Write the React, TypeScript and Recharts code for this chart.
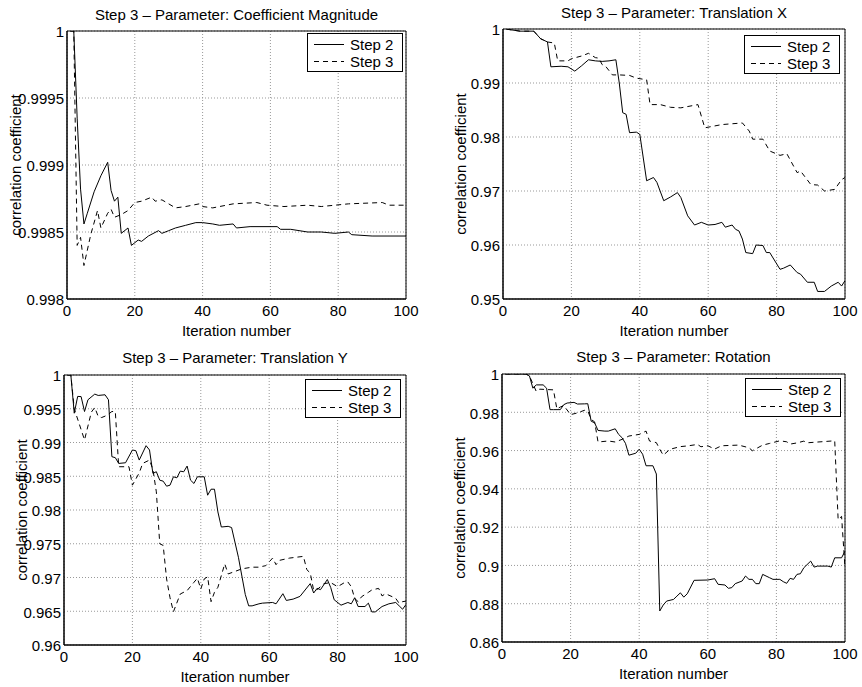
import React from 'react'
import { CartesianGrid, Label, Legend, Line, LineChart, ReferenceArea, XAxis, YAxis } from 'recharts'

const FONT = '"Liberation Sans", Arial, Helvetica, sans-serif'

// shared axis / legend text
const iterTicks = [0, 20, 40, 60, 80, 100]
const seriesNames = ['Step 2', 'Step 3']
const seriesDash = ['', '5 4']
const xLabel = 'Iteration number'
const yLabel = 'correlation coefficient'

// Coefficient Magnitude
const magTitle = 'Step 3 – Parameter: Coefficient Magnitude'
const magTicks = [0.998, 0.9985, 0.999, 0.9995, 1]
const magTickLabels = ['0.998', '0.9985', '0.999', '0.9995', '1']
const magStep2 = [
  [1, 1], [2, 1], [3, 0.99935], [4, 0.99882], [5, 0.99856], [6, 0.99864], [8, 0.9988], [10, 0.99892],
  [12, 0.99902], [13, 0.99881], [14, 0.99873], [15, 0.99876], [16, 0.99849], [18, 0.99853], [19, 0.9984],
  [21, 0.99844], [22, 0.99843], [24, 0.99847], [27, 0.99851], [28, 0.99849], [30, 0.99851], [32, 0.99853],
  [35, 0.99855], [38, 0.99857], [40, 0.99857], [43, 0.99856], [45, 0.99855], [49, 0.99856], [50, 0.99853],
  [54, 0.99854], [59, 0.99854], [62, 0.99854], [63, 0.99852], [66, 0.99852], [71, 0.9985], [75, 0.9985],
  [79, 0.99849], [83, 0.9985], [84, 0.99848], [90, 0.99847], [100, 0.99847],
]
const magStep3 = [
  [1, 1], [2, 1], [3, 0.9984], [4, 0.99846], [5, 0.99825], [7, 0.99848], [9, 0.99866], [10, 0.99853],
  [12, 0.99864], [13, 0.99867], [14, 0.99861], [16, 0.99863], [18, 0.99866], [20, 0.99872], [22, 0.99873],
  [25, 0.99876], [26, 0.99873], [28, 0.99874], [30, 0.99871], [32, 0.99868], [35, 0.99869], [39, 0.99871],
  [40, 0.99869], [43, 0.99868], [49, 0.99871], [56, 0.99872], [59, 0.9987], [64, 0.99869], [71, 0.9987],
  [75, 0.99869], [79, 0.9987], [83, 0.99871], [93, 0.99872], [95, 0.9987], [100, 0.9987],
]

// Translation X
const txTitle = 'Step 3 – Parameter: Translation X'
const txTicks = [0.95, 0.96, 0.97, 0.98, 0.99, 1]
const txTickLabels = ['0.95', '0.96', '0.97', '0.98', '0.99', '1']
const txStep2 = [
  [1, 1], [2, 0.99988], [5, 0.9996], [9, 0.9996], [11, 0.9982], [13, 0.9976], [14, 0.993], [17, 0.9931],
  [19, 0.993], [21, 0.9922], [23, 0.9932], [25, 0.9943], [27, 0.9941], [29, 0.994], [31, 0.9941],
  [33, 0.9943], [34, 0.99], [35, 0.9845], [36, 0.9842], [37, 0.9808], [39, 0.9809], [40, 0.9805],
  [42, 0.9719], [44, 0.9725], [45, 0.9716], [47, 0.9682], [49, 0.9689], [51, 0.9697], [52, 0.9688],
  [54, 0.9654], [56, 0.9637], [58, 0.9642], [60, 0.9637], [62, 0.9638], [64, 0.9642], [65, 0.9633],
  [67, 0.9637], [68, 0.9629], [69, 0.9626], [70, 0.9611], [71, 0.9586], [73, 0.9584], [74, 0.96],
  [76, 0.9599], [77, 0.9586], [78, 0.9586], [81, 0.9555], [82, 0.9557], [84, 0.9563], [86, 0.9549],
  [87, 0.9546], [89, 0.9531], [91, 0.9531], [92, 0.9514], [94, 0.9514], [96, 0.9524], [98, 0.9531],
  [99, 0.9524], [100, 0.9534],
]
const txStep3 = [
  [1, 1], [2, 0.99988], [5, 0.9996], [9, 0.9996], [11, 0.9982], [13, 0.9976], [15, 0.9974], [16, 0.9941],
  [19, 0.9941], [20, 0.9945], [23, 0.995], [25, 0.9955], [27, 0.9947], [28, 0.9946], [29, 0.9934],
  [30, 0.9931], [32, 0.9915], [34, 0.9915], [37, 0.9914], [39, 0.9909], [42, 0.9906], [43, 0.986],
  [46, 0.986], [49, 0.9855], [52, 0.9854], [57, 0.986], [59, 0.9817], [64, 0.9823], [70, 0.9826],
  [72, 0.9811], [73, 0.9796], [76, 0.9796], [78, 0.9774], [81, 0.9766], [83, 0.9769], [86, 0.9734],
  [87, 0.9737], [90, 0.9712], [92, 0.9711], [94, 0.97], [97, 0.9703], [99, 0.9721], [100, 0.9725],
]

// Translation Y
const tyTitle = 'Step 3 – Parameter: Translation Y'
const tyTicks = [0.96, 0.965, 0.97, 0.975, 0.98, 0.985, 0.99, 0.995, 1]
const tyTickLabels = ['0.96', '0.965', '0.97', '0.975', '0.98', '0.985', '0.99', '0.995', '1']
const tyStep2 = [
  [1, 1], [2, 1], [3, 0.99434], [4, 0.99683], [5, 0.9968], [6, 0.99459], [7, 0.99633], [9, 0.99717],
  [10, 0.99697], [12, 0.99707], [13, 0.99633], [14, 0.9879], [15, 0.98775], [16, 0.9869], [18, 0.987],
  [20, 0.98889], [21, 0.98879], [22, 0.9874], [24, 0.98953], [25, 0.98889], [26, 0.98542], [27, 0.98567],
  [28, 0.98442], [29, 0.98427], [30, 0.98353], [31, 0.98368], [32, 0.98492], [33, 0.98477], [34, 0.98576],
  [35, 0.98566], [36, 0.98651], [37, 0.98442], [38, 0.98393], [39, 0.98492], [41, 0.98492], [42, 0.98219],
  [43, 0.98308], [44, 0.98308], [45, 0.97971], [46, 0.97748], [48, 0.97758], [49, 0.9774], [51, 0.973],
  [53, 0.9675], [54, 0.9658], [55, 0.9658], [57, 0.9661], [58, 0.9662], [61, 0.9663], [62, 0.9661],
  [64, 0.9676], [65, 0.9666], [67, 0.9668], [69, 0.9672], [72, 0.9691], [73, 0.9677], [74, 0.9684],
  [75, 0.9682], [77, 0.9697], [78, 0.9685], [79, 0.9667], [81, 0.9659], [83, 0.9663], [84, 0.9661],
  [85, 0.967], [86, 0.9657], [88, 0.9657], [89, 0.9662], [90, 0.9649], [91, 0.9649], [93, 0.9657],
  [95, 0.9661], [97, 0.9663], [98, 0.9658], [99, 0.9653], [100, 0.966],
]
const tyStep3 = [
  [1, 1], [2, 1], [3, 0.99499], [6, 0.99038], [8, 0.9945], [9, 0.99519], [10, 0.99385], [11, 0.9937],
  [12, 0.9939], [13, 0.9942], [14, 0.99459], [15, 0.99459], [16, 0.98641], [19, 0.98641], [20, 0.98368],
  [22, 0.9855], [23, 0.9869], [25, 0.9874], [26, 0.986], [27, 0.98269], [28, 0.975], [29, 0.97475],
  [30, 0.96979], [31, 0.967], [32, 0.96493], [34, 0.96756], [36, 0.96806], [38, 0.96929], [39, 0.96989],
  [40, 0.9683], [41, 0.96979], [42, 0.9701], [43, 0.96642], [44, 0.96781], [45, 0.96855], [47, 0.97202],
  [48, 0.97053], [50, 0.9709], [52, 0.97128], [55, 0.97153], [57, 0.97153], [58, 0.97165], [59, 0.97175],
  [61, 0.97288], [62, 0.9719], [63, 0.97254], [66, 0.97288], [70, 0.97313], [71, 0.97116], [72, 0.97067],
  [73, 0.9681], [74, 0.9682], [76, 0.96909], [78, 0.96924], [80, 0.96864], [82, 0.96924], [83, 0.96934],
  [84, 0.96864], [85, 0.9669], [86, 0.96642], [87, 0.96715], [89, 0.9678], [90, 0.96815], [92, 0.96839],
  [93, 0.96727], [94, 0.9676], [96, 0.96715], [97, 0.9669], [98, 0.96617], [99, 0.96642], [100, 0.9665],
]

// Rotation
const rotTitle = 'Step 3 – Parameter: Rotation'
const rotTicks = [0.86, 0.88, 0.9, 0.92, 0.94, 0.96, 0.98, 1]
const rotTickLabels = ['0.86', '0.88', '0.9', '0.92', '0.94', '0.96', '0.98', '1']
const rotStep2 = [
  [1, 1], [7, 1], [8, 0.999], [9, 0.99259], [10, 0.99431], [12, 0.99431], [13, 0.99259], [14, 0.98138],
  [15, 0.98138], [17, 0.98138], [18, 0.98397], [19, 0.98483], [21, 0.98517], [22, 0.98431], [24, 0.9844],
  [25, 0.98448], [26, 0.97534], [27, 0.97448], [28, 0.97052], [30, 0.97017], [31, 0.97017], [33, 0.97138],
  [34, 0.96845], [35, 0.96672], [36, 0.96379], [37, 0.95759], [39, 0.95862], [40, 0.96069], [41, 0.9581],
  [42, 0.95207], [44, 0.95207], [45, 0.94776], [46, 0.87621], [47, 0.87931], [48, 0.88138], [50, 0.88224],
  [51, 0.88397], [52, 0.88569], [53, 0.88345], [54, 0.88517], [56, 0.89221], [60, 0.89238], [62, 0.89307],
  [63, 0.89013], [65, 0.88978], [66, 0.88805], [67, 0.8884], [68, 0.89048], [70, 0.89186], [71, 0.89446],
  [72, 0.89273], [73, 0.89273], [74, 0.89048], [75, 0.89048], [76, 0.89532], [78, 0.89359], [79, 0.89273],
  [81, 0.89273], [82, 0.89152], [83, 0.89065], [84, 0.89325], [85, 0.89273], [86, 0.89532], [87, 0.89567],
  [88, 0.89879], [90, 0.90225], [91, 0.89913], [92, 0.89965], [95, 0.89965], [96, 0.89913], [97, 0.90398],
  [99, 0.90398], [100, 0.90745],
]
const rotStep3 = [
  [1, 1], [7, 1], [8, 0.999], [10, 0.99086], [11, 0.99207], [15, 0.99172], [16, 0.98172], [17, 0.98276],
  [18, 0.9835], [20, 0.97879], [22, 0.97966], [24, 0.98103], [25, 0.9808], [26, 0.97621], [27, 0.975],
  [28, 0.96448], [31, 0.965], [33, 0.96448], [35, 0.96586], [37, 0.96759], [40, 0.96845], [42, 0.97017],
  [43, 0.965], [45, 0.96414], [46, 0.96069], [47, 0.95759], [49, 0.96069], [52, 0.96207], [54, 0.96241],
  [57, 0.9632], [58, 0.96199], [60, 0.96251], [62, 0.96078], [64, 0.96251], [69, 0.96286], [72, 0.96147],
  [73, 0.95991], [76, 0.96286], [78, 0.96372], [81, 0.96511], [83, 0.96459], [84, 0.96338], [86, 0.964],
  [88, 0.96494], [89, 0.96407], [93, 0.96459], [97, 0.96511], [98, 0.9239], [99, 0.92563], [100, 0.89879],
]

const toRows = (pts: number[][]) => pts.map(([x, v]) => ({ x, v }))

const panels = [
  { title: magTitle, ticks: magTicks, labels: magTickLabels, s2: magStep2, s3: magStep3 },
  { title: txTitle, ticks: txTicks, labels: txTickLabels, s2: txStep2, s3: txStep3 },
  { title: tyTitle, ticks: tyTicks, labels: tyTickLabels, s2: tyStep2, s3: tyStep3 },
  { title: rotTitle, ticks: rotTicks, labels: rotTickLabels, s2: rotStep2, s3: rotStep3 },
]

// where each sub-plot sits on the page
const Y_AXIS_W = 60
const X_AXIS_H = 30
const layouts = [
  { left: 0, top: 0, w: 431, h: 343, m: { top: 31, right: 25, bottom: 14, left: 7 }, titleY: 15, ylab: 9, lx: 307, ly: 33 },
  { left: 431, top: 0, w: 431, h: 343, m: { top: 29, right: 17, bottom: 14, left: 12 }, titleY: 13, ylab: 18, lx: 313, ly: 35 },
  { left: 0, top: 343, w: 431, h: 344, m: { top: 32, right: 25, bottom: 12, left: 4 }, titleY: 15, ylab: 18, lx: 305, ly: 36 },
  { left: 431, top: 343, w: 431, h: 344, m: { top: 31, right: 17, bottom: 15, left: 11 }, titleY: 14, ylab: 18, lx: 314, ly: 35 },
]

const LegendBox = () => (
  <div
    style={{
      width: 96,
      height: 39,
      boxSizing: 'border-box',
      border: '1px solid #000',
      background: '#fff',
      paddingTop: 2,
      fontFamily: FONT,
      fontSize: 15,
      color: '#000',
    }}
  >
    {seriesNames.map((name, i) => (
      <div key={name} style={{ display: 'flex', alignItems: 'center', height: 17 }}>
        <svg width={42} height={17}>
          <line x1={6} x2={36} y1={8.5} y2={8.5} stroke='#000' strokeWidth={1} strokeDasharray={seriesDash[i]} />
        </svg>
        <span style={{ lineHeight: '17px' }}>{name}</span>
      </div>
    ))}
  </div>
)

const Panel = ({ p, lay }: { p: (typeof panels)[number]; lay: (typeof layouts)[number] }) => {
  const plotLeft = lay.m.left + Y_AXIS_W
  const plotW = lay.w - plotLeft - lay.m.right
  const yMin = p.ticks[0]
  const yMax = p.ticks[p.ticks.length - 1]
  const textStyle = { fill: '#000', fontSize: 15 }

  return (
    <div style={{ position: 'absolute', left: lay.left, top: lay.top, width: lay.w, height: lay.h }}>
      <LineChart width={lay.w} height={lay.h} margin={lay.m} style={{ fontFamily: FONT }}>
        <CartesianGrid stroke='#999' strokeDasharray='1 2' />
        <XAxis
          type='number'
          dataKey='x'
          domain={[0, 100]}
          ticks={iterTicks}
          allowDataOverflow
          height={X_AXIS_H}
          tickLine={false}
          tickSize={4}
          tickMargin={2}
          axisLine={{ stroke: '#000' }}
          tick={textStyle}
        >
          <Label value={xLabel} position='bottom' offset={-4} style={textStyle} />
        </XAxis>
        <YAxis
          type='number'
          domain={[yMin, yMax]}
          ticks={p.ticks}
          allowDataOverflow
          width={Y_AXIS_W}
          tickLine={false}
          tickSize={0}
          tickMargin={3}
          axisLine={{ stroke: '#000' }}
          tick={{ ...textStyle, dy: 1 }}
          tickFormatter={(v: number, i: number) => {
            const k = p.ticks.indexOf(v)
            return p.labels[k >= 0 ? k : i]
          }}
        >
          <Label
            value={yLabel}
            angle={-90}
            position='insideLeft'
            offset={lay.ylab}
            style={{ ...textStyle, textAnchor: 'middle' }}
          />
        </YAxis>
        <ReferenceArea x1={0} x2={100} y1={yMin} y2={yMax} fill='none' stroke='#000' strokeWidth={1} />
        <Line
          data={toRows(p.s2)}
          dataKey='v'
          name={seriesNames[0]}
          type='linear'
          stroke='#000'
          strokeWidth={1}
          dot={false}
          activeDot={false}
          isAnimationActive={false}
        />
        <Line
          data={toRows(p.s3)}
          dataKey='v'
          name={seriesNames[1]}
          type='linear'
          stroke='#000'
          strokeWidth={1}
          strokeDasharray={seriesDash[1]}
          dot={false}
          activeDot={false}
          isAnimationActive={false}
        />
        <Legend
          layout='vertical'
          align='center'
          verticalAlign='middle'
          width={96}
          height={39}
          wrapperStyle={{ left: lay.lx, top: lay.ly }}
          content={() => <LegendBox />}
        />
      </LineChart>
      <div
        style={{
          position: 'absolute',
          left: plotLeft,
          width: plotW,
          top: lay.titleY - 9,
          lineHeight: '18px',
          textAlign: 'center',
          fontFamily: FONT,
          fontSize: 15,
          color: '#000',
          whiteSpace: 'nowrap',
        }}
      >
        {p.title}
      </div>
    </div>
  )
}

export default function App() {
  return (
    <div style={{ position: 'absolute', left: 0, top: 0, width: 862, height: 687, background: '#fff' }}>
      {panels.map((p, i) => (
        <Panel key={p.title} p={p} lay={layouts[i]} />
      ))}
    </div>
  )
}
